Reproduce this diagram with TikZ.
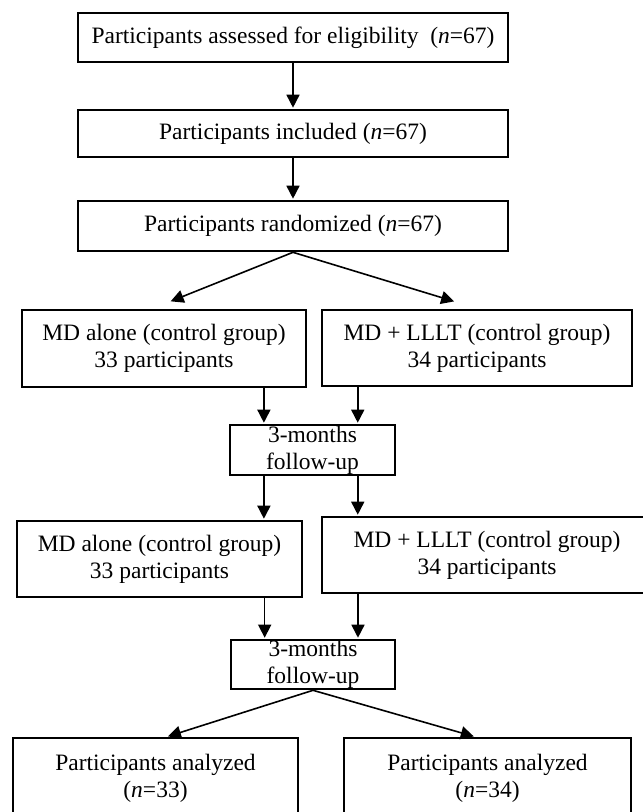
\documentclass[tikz,border=0pt]{standalone}
\usepackage{fontspec}
\setmainfont{Liberation Serif}
\usetikzlibrary{calc,arrows.meta}

\tikzset{
	flowbox/.style={draw, line width=2.6pt, align=center, inner sep=0pt},
	flowarrow/.style={line width=1.6pt, -{Triangle[length=13pt,width=13pt]}, shorten >=1pt}
}

\begin{document}
\begin{tikzpicture}[x=1pt, y=-1pt, font=\fontsize{23.5}{27}\selectfont]

	\useasboundingbox (0,0) rectangle (643,812);
	\clip (0,0) rectangle (643,812);

	% enrolment
	\node[flowbox, minimum width=430pt, minimum height=49pt] (assess) at (293,37.5) {Participants assessed for eligibility~ (\textit{n}=67)};
	\node[flowbox, minimum width=430pt, minimum height=47pt] (incl) at (293,133.5) {Participants included (\textit{n}=67)};
	\node[flowbox, minimum width=430pt, minimum height=50pt] (rand) at (293,226) {Participants randomized (\textit{n}=67)};

	% first allocation
	\node[flowbox, minimum width=284pt, minimum height=77pt] (aloneA) at (164,348.5) {MD alone (control group)\\33 participants};
	\node[flowbox, minimum width=310pt, minimum height=76pt] (lltA) at (477,348) {MD + LLLT (control group)\\34 participants};
	\node[flowbox, minimum width=165pt, minimum height=50pt] (followA) at (312.5,450) {3-months\\follow-up};

	% second allocation
	\node[flowbox, minimum width=285pt, minimum height=76pt] (aloneB) at (159.5,559) {MD alone (control group)\\33 participants};
	\node[flowbox, minimum width=330pt, minimum height=76pt] (lltB) at (487,555) {MD + LLLT (control group)\\34 participants};
	\node[flowbox, minimum width=164pt, minimum height=49pt] (followB) at (313,664.5) {3-months\\follow-up};

	% analysis
	\node[flowbox, minimum width=285pt, minimum height=80pt] (analysedA) at (155.5,778) {Participants analyzed\\(\textit{n}=33)};
	\node[flowbox, minimum width=287pt, minimum height=80pt] (analysedB) at (487.5,778) {Participants analyzed\\(\textit{n}=34)};

	% arrow ends
	\coordinate (tipA) at ($(aloneA.north west)!0.52!(aloneA.north east)+(0,-7)$);
	\coordinate (tipB) at ($(lltA.north west)!0.43!(lltA.north east)+(0,-7)$);
	\coordinate (inL) at ($(followA.north west)!0.21!(followA.north east)$);
	\coordinate (inR) at ($(followA.north west)!0.77!(followA.north east)$);
	\coordinate (outL) at ($(followB.north west)!0.21!(followB.north east)$);
	\coordinate (outR) at ($(followB.north west)!0.77!(followB.north east)$);
	\coordinate (endA) at ($(analysedA.north west)!0.54!(analysedA.north east)$);
	\coordinate (endB) at ($(analysedB.north west)!0.456!(analysedB.north east)$);

	% arrows
	\draw[flowarrow] (assess) -- (incl);
	\draw[flowarrow] (incl) -- (rand);
	\draw[flowarrow] (rand.south) -- (tipA);
	\draw[flowarrow] (rand.south) -- (tipB);

	\draw[flowarrow] (aloneA.south -| inL) -- (inL);
	\draw[flowarrow] (lltA.south -| inR) -- (inR);
	\draw[flowarrow] (followA.south -| inL) -- (aloneB.north -| inL);
	\draw[flowarrow] (followA.south -| inR) -- (lltB.north -| inR);

	\draw[flowarrow] (aloneB.south -| outL) -- (outL);
	\draw[flowarrow] (lltB.south -| outR) -- (outR);
	\draw[flowarrow] (followB.south) -- (endA);
	\draw[flowarrow] (followB.south) -- (endB);

\end{tikzpicture}
\end{document}
